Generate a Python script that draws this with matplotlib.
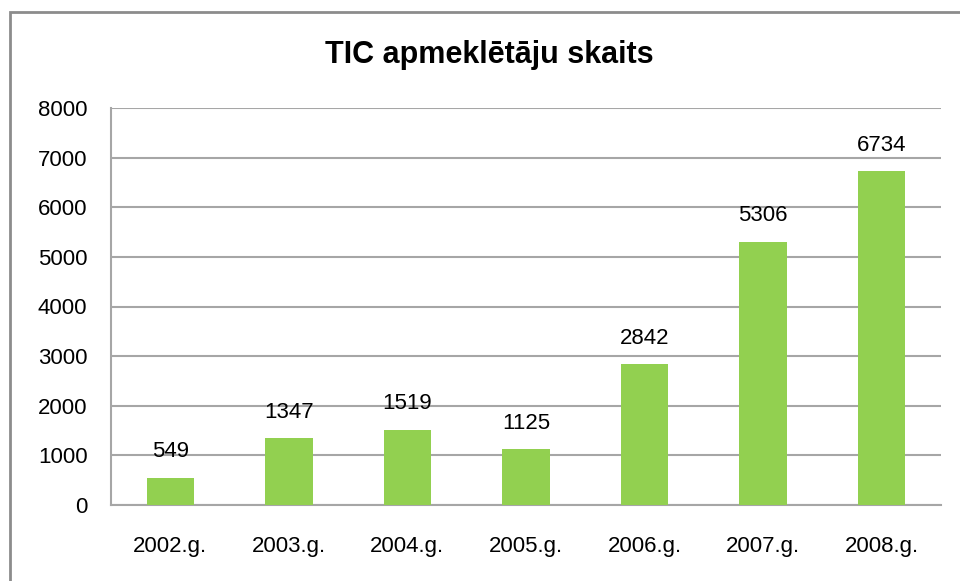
import matplotlib
matplotlib.use('Agg')
import matplotlib.pyplot as plt
from matplotlib.patches import Rectangle

years = ['2002.g.', '2003.g.', '2004.g.', '2005.g.', '2006.g.', '2007.g.', '2008.g.']
visitors = [549, 1347, 1519, 1125, 2842, 5306, 6734]
y_ticks = [0, 1000, 2000, 3000, 4000, 5000, 6000, 7000, 8000]

plt.rcParams['font.family'] = ['Liberation Sans', 'DejaVu Sans']

fig = plt.figure(figsize=(9.6, 5.81), dpi=100)

# outer chart frame (right and bottom edges fall outside the image)
fig.patches.append(Rectangle((9.5 / 960, -1), 2, 2 - 12 / 581, transform=fig.transFigure,
                             fill=False, edgecolor='#8c8c8c', linewidth=2.0, zorder=0))

ax = fig.add_axes([111 / 960, 1 - 505 / 581, 830 / 960, 397 / 581])

x = range(len(years))
bars = ax.bar(x, visitors, width=0.4, color='#92D050', zorder=3)

for b, v in zip(bars, visitors):
    ax.annotate(str(v), (b.get_x() + b.get_width() / 2, v), xytext=(0, 11),
                textcoords='offset points', ha='center', va='bottom', fontsize=16)

ax.set_xlim(-0.5, len(years) - 0.5)
ax.set_ylim(0, 8000)
ax.set_yticks(y_ticks)
ax.set_xticks(list(x))
ax.set_xticklabels(years)
ax.tick_params(axis='both', length=0, labelsize=16)
ax.tick_params(axis='y', pad=17)
ax.tick_params(axis='x', pad=22)
ax.yaxis.grid(True, color='#a6a6a6', linewidth=1.5, zorder=0)
ax.set_axisbelow(True)

for s in ['top', 'right']:
    ax.spines[s].set_visible(False)
for s in ['left', 'bottom']:
    ax.spines[s].set_color('#a6a6a6')
    ax.spines[s].set_linewidth(1.5)

fig.text(489 / 960, 1 - 55 / 581, 'TIC apmeklētāju skaits', ha='center', va='center',
         fontsize=22, fontweight='bold')

fig.savefig('out.png', dpi=100)
